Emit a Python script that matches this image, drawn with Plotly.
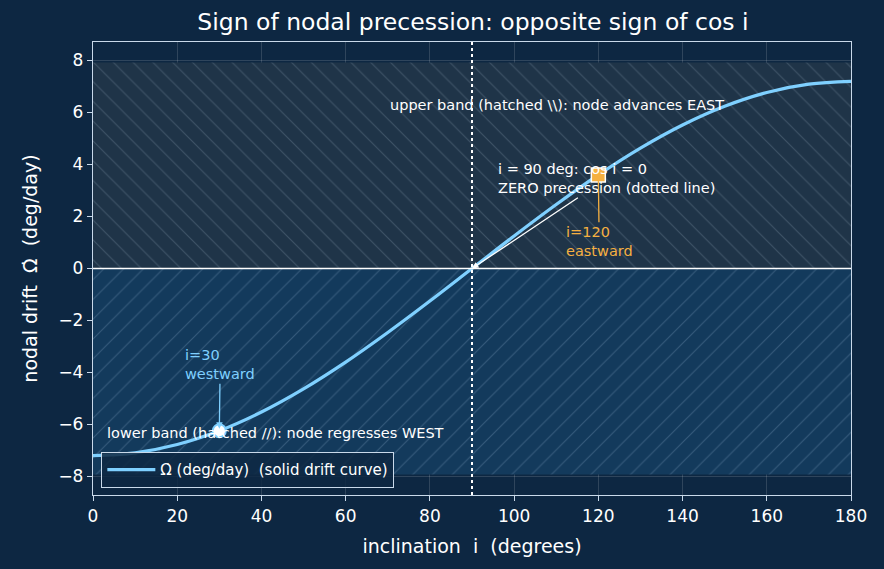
import plotly.graph_objects as go

# inclination (deg) and nodal drift (deg/day)
incl = [0, 10, 20, 30, 40, 50, 60, 70, 80, 90, 100, 110, 120, 130, 140, 150, 160, 170, 180]
drift = [-7.2, -7.09, -6.77, -6.24, -5.52, -4.63, -3.6, -2.46, -1.25, 0.0,
         1.25, 2.46, 3.6, 4.63, 5.52, 6.24, 6.77, 7.09, 7.2]

band_x = [0, 180]
upper_band = [0, 7.92]
lower_band = [-7.92, 0]

west_pt = (30, -6.24)
east_pt = (120, 3.6)

BG = "#0d2742"
AX = "#c9d9ea"
CURVE = "#7fd0ff"
ORANGE = "#f5b041"
FONT = "DejaVu Sans"

fig = go.Figure()

# hatched bands
fig.add_trace(go.Scatter(
    x=[band_x[0], band_x[1], band_x[1], band_x[0], band_x[0]],
    y=[upper_band[0], upper_band[0], upper_band[1], upper_band[1], upper_band[0]],
    mode="lines", line=dict(width=0), fill="toself",
    fillcolor="#1f3448",
    fillpattern=dict(shape="\\", bgcolor="#1f3448", fgcolor="rgba(160,180,200,0.24)",
                     size=14, solidity=0.08, fillmode="replace"),
    showlegend=False, hoverinfo="skip"))
fig.add_trace(go.Scatter(
    x=[band_x[0], band_x[1], band_x[1], band_x[0], band_x[0]],
    y=[lower_band[0], lower_band[0], lower_band[1], lower_band[1], lower_band[0]],
    mode="lines", line=dict(width=0), fill="toself",
    fillcolor="#133a5c",
    fillpattern=dict(shape="/", bgcolor="#133a5c", fgcolor="rgba(160,190,220,0.24)",
                     size=14, solidity=0.08, fillmode="replace"),
    showlegend=False, hoverinfo="skip"))

fig.add_trace(go.Scatter(
    x=incl, y=drift, mode="lines", line=dict(color=CURVE, width=3.2, shape="spline"),
    name="\u03A9\u0307 (deg/day)\u00a0\u00a0(solid drift curve)"))

fig.add_trace(go.Scatter(
    x=[west_pt[0]], y=[west_pt[1]], mode="markers",
    marker=dict(symbol="circle", size=13, color="#ffffff", line=dict(color=CURVE, width=2)),
    showlegend=False))
fig.add_trace(go.Scatter(
    x=[east_pt[0]], y=[east_pt[1]], mode="markers",
    marker=dict(symbol="square", size=14, color=ORANGE, line=dict(color="#ffffff", width=1.5)),
    showlegend=False))

# zero line and dotted i=90 line
fig.add_shape(type="line", xref="paper", x0=0, x1=1, y0=0, y1=0,
              line=dict(color="#ffffff", width=1.5))
fig.add_shape(type="line", yref="paper", x0=90, x1=90, y0=0, y1=1,
              line=dict(color="#ffffff", width=2, dash="dot"))

ANN = 14.5
fig.add_annotation(x=70, y=6.3, xanchor="left", showarrow=False,
                   text="upper band (hatched \\\\): node advances EAST",
                   font=dict(color="#ffffff", size=ANN, family=FONT))
fig.add_annotation(x=2.8, y=-6.33, xanchor="left", showarrow=False,
                   text="lower band (hatched //): node regresses WEST",
                   font=dict(color="#ffffff", size=ANN, family=FONT))
fig.add_annotation(x=90, y=0, axref="x", ayref="y", ax=121.9, ay=3.45,
                   text="i = 90 deg: cos i = 0<br>ZERO precession (dotted line)",
                   align="left", showarrow=True, arrowcolor="#ffffff", arrowwidth=1.3,
                   arrowhead=2, arrowsize=1,
                   font=dict(color="#ffffff", size=ANN, family=FONT))
fig.add_annotation(x=east_pt[0], y=east_pt[1], axref="x", ayref="y", ax=120.2, ay=1.05,
                   text="i=120<br>eastward", align="left", showarrow=True,
                   arrowcolor=ORANGE, arrowwidth=1.3, arrowhead=0, standoff=6,
                   font=dict(color=ORANGE, size=ANN, family=FONT))
fig.add_annotation(x=west_pt[0], y=west_pt[1], axref="x", ayref="y", ax=30.2, ay=-3.7,
                   text="i=30<br>westward", align="left", showarrow=True,
                   arrowcolor=CURVE, arrowwidth=1.3, arrowhead=2, standoff=2,
                   font=dict(color=CURVE, size=ANN, family=FONT))

axis_common = dict(showline=True, linecolor=AX, linewidth=1.3, mirror=True,
                   ticks="outside", tickcolor=AX, ticklen=5, tickwidth=1.2,
                   gridcolor="rgba(255,255,255,0.14)", gridwidth=1, zeroline=False,
                   tickfont=dict(color="#ffffff", size=17, family=FONT))

fig.update_xaxes(range=[0, 180], dtick=20, tick0=0,
                 title=dict(text="inclination\u00a0\u00a0i\u00a0\u00a0(degrees)",
                            font=dict(color="#ffffff", size=19, family=FONT), standoff=15),
                 **axis_common)
fig.update_yaxes(range=[-8.712, 8.712], dtick=2, tick0=0,
                 title=dict(text="nodal drift\u00a0\u00a0\u03A9\u0307\u00a0\u00a0(deg/day)",
                            font=dict(color="#ffffff", size=19, family=FONT), standoff=15),
                 **axis_common)

fig.update_layout(
    width=884, height=569,
    paper_bgcolor=BG, plot_bgcolor=BG,
    margin=dict(l=93, r=33, t=42, b=74),
    title=dict(text="Sign of nodal precession: opposite sign of cos i",
               x=0.535, xanchor="center", y=0.961, yanchor="middle",
               font=dict(color="#ffffff", size=23.5, family=FONT)),
    legend=dict(x=0.0106, y=0.0155, xanchor="left", yanchor="bottom",
                bgcolor="rgba(14,40,66,0.85)", bordercolor=AX, borderwidth=1.3,
                itemwidth=48,
                font=dict(color="#ffffff", size=15, family=FONT)),
    font=dict(family=FONT, color="#ffffff"),
)

fig.write_html("out.html")
